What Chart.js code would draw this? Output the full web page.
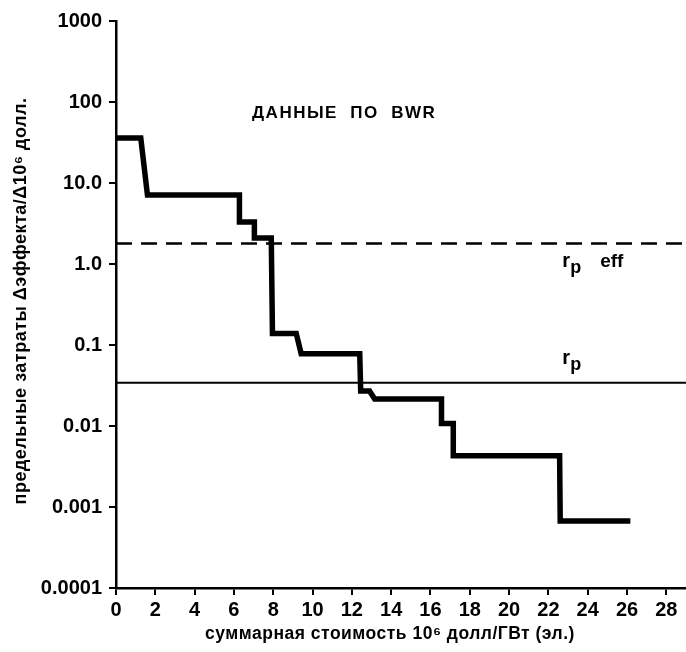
<!DOCTYPE html>
<html>
<head>
<meta charset="utf-8">
<script src="https://cdn.jsdelivr.net/npm/chart.js@4.4.1/dist/chart.umd.min.js"></script>
<style>
  html, body { margin: 0; padding: 0; background: #fff; }
  #wrap { width: 686px; height: 652px; }
</style>
</head>
<body>
<div id="wrap"><canvas id="chart" width="686" height="652"></canvas></div>
<script>
// ступенчатая кривая предельных затрат (углы ступеней)
const stepX = [0, 1.26, 1.6, 6.28, 6.28, 7.04, 7.04, 7.9, 7.96, 9.17, 9.42, 12.4, 12.45, 12.9, 13.16, 16.56, 16.56, 17.16, 17.16, 22.57, 22.6, 26.17];
const stepY = [36, 36, 7.1, 7.1, 3.3, 3.3, 2.1, 2.1, 0.139, 0.139, 0.078, 0.078, 0.027, 0.027, 0.0215, 0.0215, 0.0107, 0.0107, 0.0043, 0.0043, 0.00067, 0.00067];

// горизонтальные уровни r_p eff и r_p
const rpEff = 1.79;
const rp = 0.0343;
const levelX = [0, 29];

const xTicks = [0, 2, 4, 6, 8, 10, 12, 14, 16, 18, 20, 22, 24, 26, 28];
const yTicks = [0.0001, 0.001, 0.01, 0.1, 1, 10, 100, 1000];
const yTickLabels = ['0.0001', '0.001', '0.01', '0.1', '1.0', '10.0', '100', '1000'];

const FONT = '"Liberation Sans", Arial, sans-serif';

function toPoints(xs, ys) {
    return xs.map((x, i) => ({ x: x, y: ys[i] }));
}

const annotations = {
    id: 'annotations',
    afterDraw(chart) {
        const ctx = chart.ctx;
        const xs = chart.scales.x;
        const ys = chart.scales.y;
        ctx.save();
        ctx.fillStyle = '#000';

        // надпись в поле графика
        ctx.font = 'bold 17px ' + FONT;
        ctx.letterSpacing = '1.5px';
        ctx.textAlign = 'left';
        ctx.textBaseline = 'alphabetic';
        ctx.fillText('ДАННЫЕ  ПО  BWR', 252, 118);

        // r_p eff и r_p
        const labelX = xs.getPixelForValue(22.7);
        ctx.letterSpacing = '0px';
        const drawRp = (yBase, extra) => {
            ctx.font = 'bold 20px ' + FONT;
            ctx.fillText('r', labelX, yBase);
            ctx.font = 'bold 18px ' + FONT;
            ctx.fillText('p', labelX + 8, yBase + 6);
            if (extra) {
                ctx.font = 'bold 19px ' + FONT;
                ctx.fillText(extra, labelX + 38, yBase);
            }
        };
        drawRp(ys.getPixelForValue(rpEff) + 23, 'eff');
        drawRp(ys.getPixelForValue(rp) - 19, null);

        // подписи осей
        ctx.font = 'bold 17.5px ' + FONT;
        ctx.letterSpacing = '0.5px';
        ctx.textAlign = 'center';
        ctx.textBaseline = 'middle';
        ctx.fillText('суммарная стоимость 10⁶ долл/ГВт (эл.)', 390, 634);

        ctx.font = 'bold 18px ' + FONT;
        ctx.translate(21, 301);
        ctx.rotate(-Math.PI / 2);
        ctx.fillText('предельные затраты Δэффекта/Δ10⁶ долл.', 0, 0);
        ctx.restore();
    }
};

new Chart(document.getElementById('chart'), {
    type: 'scatter',
    data: {
        datasets: [
            {
                label: 'BWR',
                data: toPoints(stepX, stepY),
                showLine: true,
                borderColor: '#000',
                borderWidth: 5.5,
                pointRadius: 0,
                borderJoinStyle: 'miter',
                borderCapStyle: 'butt',
                tension: 0
            },
            {
                label: 'rp eff',
                data: toPoints(levelX, [rpEff, rpEff]),
                showLine: true,
                borderColor: '#000',
                borderWidth: 2.5,
                borderDash: [16, 9],
                pointRadius: 0
            },
            {
                label: 'rp',
                data: toPoints(levelX, [rp, rp]),
                showLine: true,
                borderColor: '#000',
                borderWidth: 2,
                pointRadius: 0
            }
        ]
    },
    options: {
        responsive: false,
        animation: false,
        events: [],
        layout: { padding: { top: 21, right: 0, left: 0, bottom: 0 } },
        plugins: {
            legend: { display: false },
            tooltip: { enabled: false }
        },
        scales: {
            x: {
                type: 'linear',
                min: 0,
                max: 29,
                afterBuildTicks: s => { s.ticks = xTicks.map(v => ({ value: v })); },
                afterFit: s => { s.height = 64; },
                ticks: {
                    color: '#000',
                    font: { family: FONT, size: 20, weight: 'bold' },
                    padding: 3,
                    maxRotation: 0,
                    autoSkip: false
                },
                grid: {
                    drawOnChartArea: false,
                    drawTicks: true,
                    tickLength: 7,
                    color: '#000',
                    lineWidth: 2
                },
                border: { display: true, color: '#000', width: 2.5 }
            },
            y: {
                type: 'logarithmic',
                min: 0.0001,
                max: 1000,
                afterBuildTicks: s => { s.ticks = yTicks.map(v => ({ value: v })); },
                afterFit: s => { s.width = 116; },
                ticks: {
                    color: '#000',
                    font: { family: FONT, size: 20, weight: 'bold' },
                    padding: 7,
                    autoSkip: false,
                    callback: (v, i) => yTickLabels[i]
                },
                grid: {
                    drawOnChartArea: false,
                    drawTicks: true,
                    tickLength: 7,
                    color: '#000',
                    lineWidth: 2
                },
                border: { display: true, color: '#000', width: 2.5 }
            }
        }
    },
    plugins: [annotations]
});
</script>
</body>
</html>
